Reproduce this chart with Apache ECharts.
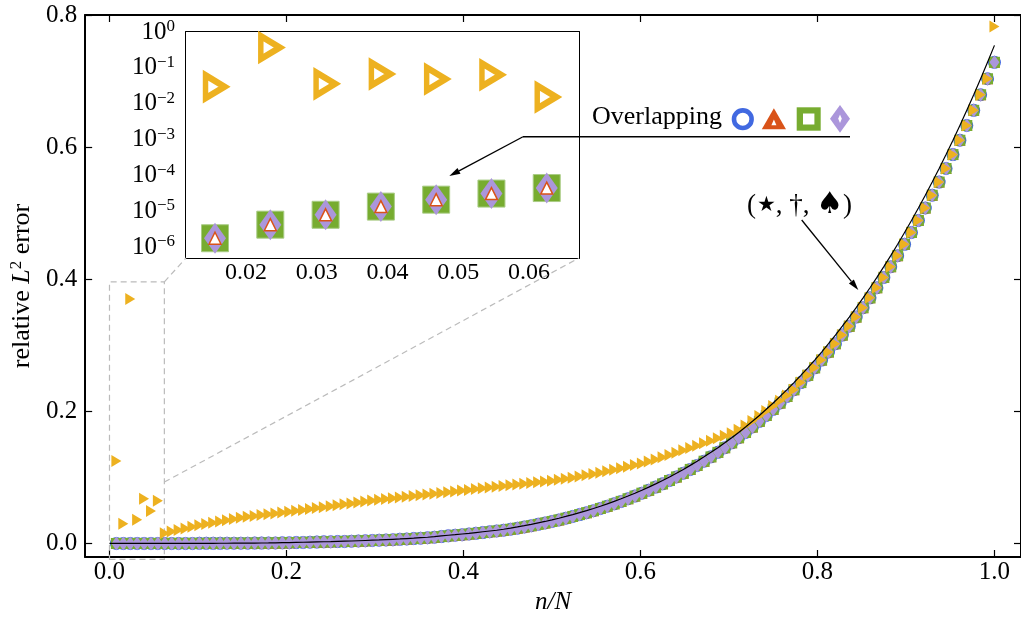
<!DOCTYPE html>
<html><head><meta charset="utf-8">
<script src="https://cdn.jsdelivr.net/npm/echarts@6/dist/echarts.min.js"></script>
<style>html,body{margin:0;padding:0;background:#fff}#c{width:1021px;height:623px}</style>
</head><body><div id="c"></div>
<script>
const N = 128;
// tick labels
const mainXTicks = [0, 0.2, 0.4, 0.6, 0.8, 1.0];
const mainYTicks = [0, 0.2, 0.4, 0.6, 0.8];
const insetXTicks = [0.02, 0.03, 0.04, 0.05, 0.06];
const insetYTicks = [1, 1e-1, 1e-2, 1e-3, 1e-4, 1e-5, 1e-6];

// overlapping schemes (circle, triangle, square, diamond), n = 1..128
const overlapVals = [
 0.0000006,0.0000018,0.0000043,0.0000081,0.0000137,0.0000214,0.0000316,0.000045,0.00006,0.00008,
 0.0001,0.00012,0.00015,0.00018,0.00021,0.00025,0.0003,0.00035,0.0004,0.00046,
 0.00052,0.0006,0.0007,0.0008,0.001,0.0012,0.0014,0.0016,0.0018,0.0021,
 0.0024,0.0026,0.0028,0.0031,0.0034,0.0037,0.0041,0.0045,0.0049,0.0053,
 0.0058,0.0063,0.0068,0.0074,0.008,0.0087,0.0094,0.0104,0.0115,0.0124,
 0.0133,0.0143,0.0153,0.0165,0.0177,0.0189,0.0200,0.0215,0.0232,0.0250,
 0.0269,0.0289,0.0311,0.0333,0.0357,0.0382,0.0409,0.0437,0.0466,0.0497,
 0.0530,0.0564,0.0600,0.0637,0.0677,0.0718,0.0761,0.0806,0.0853,0.0902,
 0.0953,0.1007,0.1063,0.1121,0.1182,0.1245,0.1311,0.1379,0.1450,0.1524,
 0.1601,0.1681,0.1763,0.1849,0.1938,0.2031,0.2126,0.2226,0.2328,0.2435,
 0.2545,0.2659,0.2776,0.2898,0.3024,0.3154,0.3289,0.3427,0.3570,0.3718,
 0.3871,0.4028,0.4190,0.4357,0.4529,0.4707,0.4890,0.5078,0.5271,0.5471,
 0.5676,0.5887,0.6104,0.6327,0.6557,0.6793,0.7035,0.7284
];
// orange scheme (right triangles), n = 1..128
const orangeVals = [
 0.125,0.030,0.37,0.036,0.0675,0.049,0.0645,0.0155,0.0180,0.0204,
 0.0228,0.0252,0.0275,0.0295,0.0315,0.0334,0.0353,0.0372,0.0390,0.0403,
 0.0416,0.0429,0.0442,0.0455,0.0468,0.0480,0.0494,0.0508,0.0522,0.0536,
 0.0550,0.0564,0.0578,0.0592,0.0606,0.0620,0.0635,0.0650,0.0662,0.0673,
 0.0685,0.0696,0.0708,0.0719,0.0731,0.0742,0.0754,0.0765,0.0777,0.0788,
 0.0800,0.0811,0.0823,0.0834,0.0846,0.0857,0.0869,0.0880,0.0892,0.0903,
 0.0915,0.0926,0.0938,0.0950,0.0965,0.0980,0.0996,0.1013,0.1031,0.1050,
 0.1071,0.1093,0.1116,0.1139,0.1162,0.1186,0.1210,0.1240,0.1272,0.1305,
 0.1339,0.1374,0.1410,0.1445,0.1481,0.1518,0.1555,0.1592,0.1630,0.1668,
 0.1720,0.1785,0.1855,0.1930,0.2005,0.2080,0.2160,0.2240,0.2328,0.2435,
 0.2545,0.2659,0.2776,0.2898,0.3024,0.3154,0.3289,0.3427,0.3570,0.3718,
 0.3871,0.4028,0.4190,0.4357,0.4529,0.4707,0.4890,0.5078,0.5271,0.5471,
 0.5676,0.5887,0.6104,0.6327,0.6557,0.6793,0.7035,0.7826
];
// reference solution curve, k = 0..128 (x = k/N)
const refVals = [
 0.0000006,0.0000018,0.0000043,0.0000081,0.0000137,0.0000214,0.0000316,0.000045,0.00006,0.00008,
 0.0001,0.00012,0.00015,0.00018,0.00021,0.00025,0.0003,0.00035,0.0004,0.00046,
 0.00052,0.0006,0.0007,0.0008,0.001,0.0012,0.0014,0.0016,0.0018,0.0021,
 0.0024,0.0026,0.0028,0.0031,0.0034,0.0037,0.0041,0.0045,0.0049,0.0053,
 0.0058,0.0063,0.0068,0.0074,0.008,0.0087,0.0094,0.0104,0.0115,0.0124,
 0.0133,0.0143,0.0153,0.0165,0.0177,0.0189,0.0200,0.0215,0.0232,0.0250,
 0.0269,0.0289,0.0311,0.0333,0.0357,0.0382,0.0409,0.0437,0.0466,0.0497,
 0.0530,0.0564,0.0600,0.0637,0.0677,0.0718,0.0761,0.0806,0.0853,0.0902,
 0.0953,0.1007,0.1063,0.1121,0.1182,0.1245,0.1311,0.1379,0.1450,0.1524,
 0.1601,0.1681,0.1763,0.1849,0.1938,0.2031,0.2126,0.2226,0.2328,0.2435,
 0.2545,0.2659,0.2776,0.2898,0.3024,0.3154,0.3289,0.3427,0.3570,0.3718,
 0.3871,0.4028,0.4190,0.4357,0.4529,0.4707,0.4890,0.5078,0.5271,0.5471,
 0.5676,0.5887,0.6104,0.6327,0.6557,0.6793,0.7035,0.7284,0.7540
];
// inset: n = 2..8
const insetN = [2, 3, 4, 5, 6, 7, 8];
const insetOverlapVals = [1.8e-6, 4.3e-6, 8.1e-6, 1.37e-5, 2.14e-5, 3.16e-5, 4.5e-5];
const insetOrangeVals = [0.030, 0.37, 0.036, 0.0675, 0.049, 0.0645, 0.0155];

const FONT = "'Liberation Serif', 'DejaVu Serif', serif";
const C_BLUE = '#4169E1', C_RED = '#D95319', C_GREEN = '#77AC30', C_PURPLE = '#AB96DB', C_ORANGE = '#EDB120';
const MAIN = {left: 83, top: 15, width: 939, height: 542};
const INSET = {left: 186, top: 32, width: 393, height: 226};
const zoomBox = {x: [0, 0.062], y: [-0.024, 0.396], link: 0.093};

const mainPts = v => v.map((y, i) => [(i + 1) / N, y]);
const refPts = refVals.map((y, k) => [k / N, y]);
const insetPts = v => v.map((y, i) => [insetN[i] / N, y]);

const lineBlack = {show: true, onZero: false, lineStyle: {color: '#000', width: 2}};
const tickIn = vals => ({show: true, inside: true, length: 7, lineStyle: {color: '#000', width: 1.2}, customValues: vals});

const chart = echarts.init(document.getElementById('c'), null, {renderer: 'canvas'});
const supFmt = v => {
  const e = Math.round(Math.log10(v));
  return '{b|10}{s|' + (e < 0 ? '\u2212' + (-e) : String(e)) + '}';
};

const option = {
  animation: false,
  backgroundColor: '#fff',
  grid: [
    Object.assign({show: false}, MAIN),
    Object.assign({show: true, backgroundColor: '#fff', borderWidth: 0, z: 5}, INSET)
  ],
  xAxis: [
    {type: 'value', gridIndex: 0, min: -0.0275, max: 1.03, position: 'bottom',
     axisLine: lineBlack, axisTick: tickIn(mainXTicks), splitLine: {show: false},
     axisLabel: {customValues: mainXTicks, formatter: v => v.toFixed(1), fontFamily: FONT, fontSize: 25, color: '#000', margin: 3},
     name: 'n/N', nameLocation: 'middle', nameGap: 33,
     nameTextStyle: {fontFamily: FONT, fontSize: 25, fontStyle: 'italic', color: '#000'}},
    {type: 'value', gridIndex: 0, min: -0.0275, max: 1.03, position: 'top',
     axisLine: lineBlack, axisTick: tickIn(mainXTicks), splitLine: {show: false}, axisLabel: {show: false}},
    {type: 'value', gridIndex: 1, min: 0.011525, max: 0.06706, position: 'bottom',
     axisLine: lineBlack, axisTick: tickIn(insetXTicks), splitLine: {show: false},
     axisLabel: {customValues: insetXTicks, formatter: v => v.toFixed(2), fontFamily: FONT, fontSize: 24, color: '#000', margin: 3}},
    {type: 'value', gridIndex: 1, min: 0.011525, max: 0.06706, position: 'top',
     axisLine: lineBlack, axisTick: tickIn(insetXTicks), splitLine: {show: false}, axisLabel: {show: false}}
  ],
  yAxis: [
    {type: 'value', gridIndex: 0, min: -0.0205, max: 0.8, position: 'left',
     axisLine: lineBlack, axisTick: tickIn(mainYTicks), splitLine: {show: false},
     axisLabel: {customValues: mainYTicks, formatter: v => v.toFixed(1), fontFamily: FONT, fontSize: 25, color: '#000', margin: 8},
     name: '{r|relative }{i|L}{s|2}{r| error}', nameLocation: 'middle', nameGap: 46,
     nameTextStyle: {fontFamily: FONT, fontSize: 26, color: '#000',
       rich: {r: {fontFamily: FONT, fontSize: 26, color: '#000', lineHeight: 28},
              i: {fontFamily: FONT, fontSize: 26, fontStyle: 'italic', color: '#000', lineHeight: 28},
              s: {fontFamily: FONT, fontSize: 17, color: '#000', verticalAlign: 'top', lineHeight: 16}}}},
    {type: 'value', gridIndex: 0, min: -0.0205, max: 0.8, position: 'right',
     axisLine: lineBlack, axisTick: tickIn(mainYTicks), splitLine: {show: false}, axisLabel: {show: false}},
    {type: 'log', logBase: 10, gridIndex: 1, min: Math.pow(10, -6.295), max: 1, position: 'left',
     axisLine: lineBlack, axisTick: tickIn(insetYTicks), minorTick: {show: false}, splitLine: {show: false},
     axisLabel: {customValues: insetYTicks, formatter: supFmt, margin: 11,
       rich: {b: {fontFamily: FONT, fontSize: 25, color: '#000', lineHeight: 28},
              s: {fontFamily: FONT, fontSize: 17, color: '#000', verticalAlign: 'top', lineHeight: 15}}}},
    {type: 'log', logBase: 10, gridIndex: 1, min: Math.pow(10, -6.295), max: 1, position: 'right',
     axisLine: lineBlack, axisTick: tickIn(insetYTicks), minorTick: {show: false}, splitLine: {show: false}, axisLabel: {show: false}}
  ],
  series: [
    {type: 'scatter', xAxisIndex: 0, yAxisIndex: 0, data: mainPts(overlapVals), symbol: 'circle', symbolSize: 13, itemStyle: {color: C_BLUE, opacity: 1}, z: 2},
    {type: 'scatter', xAxisIndex: 0, yAxisIndex: 0, data: mainPts(overlapVals), symbol: 'triangle', symbolSize: 11, itemStyle: {color: C_RED, opacity: 1}, z: 2},
    {type: 'scatter', xAxisIndex: 0, yAxisIndex: 0, data: mainPts(overlapVals), symbol: 'rect', symbolSize: 11, itemStyle: {color: C_GREEN, opacity: 1}, z: 2},
    {type: 'scatter', xAxisIndex: 0, yAxisIndex: 0, data: mainPts(overlapVals), symbol: 'diamond', symbolSize: [10, 14], itemStyle: {color: C_PURPLE, opacity: 1}, z: 2},
    {type: 'scatter', xAxisIndex: 0, yAxisIndex: 0, data: mainPts(orangeVals), symbol: 'triangle', symbolSize: [12, 10], symbolRotate: -90, itemStyle: {color: C_ORANGE, opacity: 1}, z: 3},
    {type: 'line', xAxisIndex: 0, yAxisIndex: 0, data: refPts, showSymbol: false, symbol: 'none', lineStyle: {color: '#000', width: 1.2}, z: 4, silent: true},

    {type: 'scatter', xAxisIndex: 2, yAxisIndex: 2, data: insetPts(insetOverlapVals), symbol: 'rect', symbolSize: 27, itemStyle: {color: C_GREEN, borderColor: '#a9cc85', borderWidth: 1, opacity: 1}, z: 6},
    {type: 'scatter', xAxisIndex: 2, yAxisIndex: 2, data: insetPts(insetOverlapVals), symbol: 'diamond', symbolSize: [22, 31], itemStyle: {color: C_PURPLE, opacity: 1}, z: 6},
    {type: 'scatter', xAxisIndex: 2, yAxisIndex: 2, data: insetPts(insetOverlapVals), symbol: 'triangle', symbolSize: [12, 12], itemStyle: {color: '#fff', borderColor: C_RED, borderWidth: 1.5, opacity: 1}, z: 6},
    {type: 'scatter', xAxisIndex: 2, yAxisIndex: 2, data: insetPts(insetOrangeVals), symbol: 'triangle', symbolSize: [23, 19], symbolRotate: -90, itemStyle: {color: '#fff', borderColor: C_ORANGE, borderWidth: 6, opacity: 1}, z: 6}
  ]
};
chart.setOption(option);

// annotations
const px = (x, y) => chart.convertToPixel({xAxisIndex: 0, yAxisIndex: 0}, [x, y]);
const b00 = px(zoomBox.x[0], zoomBox.y[0]), b11 = px(zoomBox.x[1], zoomBox.y[1]), bl = px(zoomBox.x[1], zoomBox.link);
const dashStyle = {stroke: '#bbbbbb', lineWidth: 1.2, lineDash: [6, 4], fill: null};
function arrow(x1, y1, x2, y2) {
  const a = Math.atan2(y2 - y1, x2 - x1), L = 11, W = 3.2;
  const bx = x2 - L * Math.cos(a), by = y2 - L * Math.sin(a);
  return [
    {type: 'line', shape: {x1, y1, x2: bx, y2: by}, style: {stroke: '#000', lineWidth: 1.3}, z: 100},
    {type: 'polygon', shape: {points: [[x2, y2], [bx + W * Math.sin(a), by - W * Math.cos(a)], [bx - W * Math.sin(a), by + W * Math.cos(a)]]}, style: {fill: '#000'}, z: 100}
  ];
}
const graphics = [
  {type: 'polygon', shape: {points: [[b00[0], b00[1]], [b11[0], b00[1]], [b11[0], b11[1]], [b00[0], b11[1]]]}, style: dashStyle, z: 1},
  {type: 'line', shape: {x1: b11[0], y1: b11[1], x2: INSET.left, y2: INSET.top + INSET.height}, style: dashStyle, z: 1},
  {type: 'line', shape: {x1: bl[0], y1: bl[1], x2: INSET.left + INSET.width, y2: INSET.top + INSET.height}, style: dashStyle, z: 1},
  {type: 'text', x: 592, y: 117, style: {text: 'Overlapping', font: "26px 'Liberation Serif', 'DejaVu Serif', serif", fill: '#000', verticalAlign: 'middle', align: 'left'}, z: 100},
  {type: 'circle', shape: {cx: 742.8, cy: 119.2, r: 8.8}, style: {fill: '#fff', stroke: C_BLUE, lineWidth: 4.6}, z: 100},
  {type: 'polygon', shape: {points: [[761.8, 129.3], [786, 129.3], [773.9, 108.3]]}, style: {fill: C_RED}, z: 100},
  {type: 'polygon', shape: {points: [[771.4, 125.2], [776.4, 125.2], [773.9, 119.6]]}, style: {fill: '#fff'}, z: 101},
  {type: 'rect', shape: {x: 796.7, y: 107.3, width: 24, height: 23.4}, style: {fill: C_GREEN}, z: 100},
  {type: 'rect', shape: {x: 803, y: 113.5, width: 11.4, height: 11}, style: {fill: '#fff'}, z: 101},
  {type: 'polygon', shape: {points: [[840, 105], [850, 118.8], [840, 132.7], [830, 118.8]]}, style: {fill: C_PURPLE}, z: 100},
  {type: 'polygon', shape: {points: [[840, 114.5], [841.8, 118.8], [840, 123.1], [838.2, 118.8]]}, style: {fill: '#fff'}, z: 101},
  {type: 'line', shape: {x1: 523, y1: 136.7, x2: 850, y2: 136.7}, style: {stroke: '#000', lineWidth: 1.5}, z: 100},
  {type: 'text', x: 799.5, y: 205.5, z: 100, style: {
     text: '{p|(}{st|\u2605}{p|, \u2020, }{sp|\u2660}{p|)}', align: 'center', verticalAlign: 'middle',
     rich: {p: {fontFamily: FONT, fontSize: 27, fill: '#000', lineHeight: 32},
            st: {fontFamily: "'DejaVu Sans'", fontSize: 21, fill: '#000', lineHeight: 32, padding: [0, 0, 0, 1]},
            sp: {fontFamily: "'DejaVu Sans'", fontSize: 30, fill: '#000', lineHeight: 32}}}}
].concat(arrow(523, 136.7, 449.3, 176)).concat(arrow(801.7, 220, 858.3, 290));
chart.setOption({graphic: graphics});
</script>
</body></html>
